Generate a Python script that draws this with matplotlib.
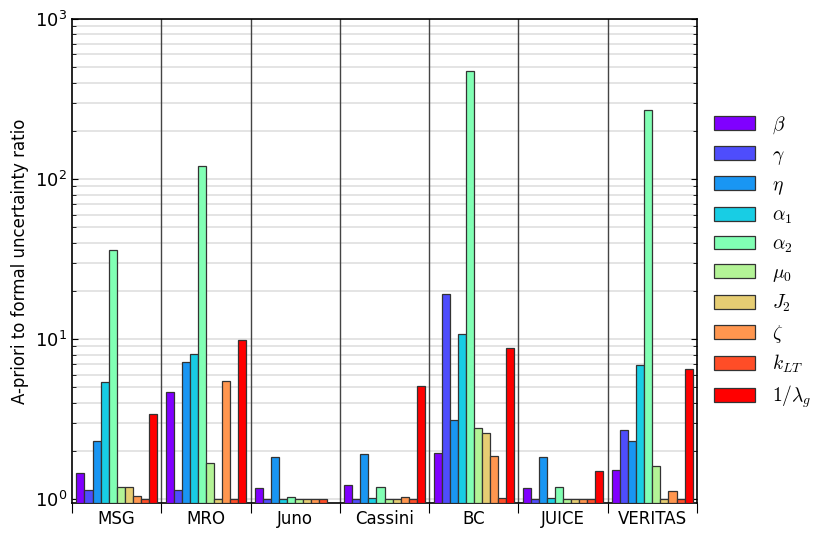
import numpy as np
import matplotlib.pyplot as plt
from matplotlib import cm
from matplotlib.font_manager import FontProperties
from matplotlib.ticker import LogLocator, NullFormatter, FixedLocator

missions = ["MSG", "MRO", "Juno", "Cassini", "BC", "JUICE", "VERITAS"]
params = [r"$\beta$", r"$\gamma$", r"$\eta$", r"$\alpha_1$", r"$\alpha_2$",
          r"$\mu_0$", r"$J_2$", r"$\zeta$", r"$k_{LT}$", r"$1/\lambda_g$"]

# rows = missions, columns = parameters
msg = [1.45, 1.14, 2.30, 5.41, 36.0, 1.19, 1.19, 1.04, 1.0, 3.38]
mro = [4.64, 1.14, 7.21, 8.06, 120.0, 1.67, 1.0, 5.49, 1.0, 9.9]
juno = [1.18, 1.0, 1.82, 1.0, 1.03, 1.0, 1.0, 1.0, 1.0, np.nan]
cassini = [1.22, 1.0, 1.90, 1.01, 1.19, 1.0, 1.0, 1.025, 1.0, 5.06]
bc = [1.94, 19.0, 3.10, 10.7, 473.0, 2.78, 2.59, 1.85, 1.01, 8.75]
juice = [1.18, 1.0, 1.82, 1.01, 1.19, 1.0, 1.0, 1.0, 1.0, 1.49]
veritas = [1.51, 2.69, 2.29, 6.91, 270.0, 1.60, 1.0, 1.12, 1.0, 6.53]

ratios = np.array([msg, mro, juno, cassini, bc, juice, veritas])

fig = plt.figure(figsize=(8.31, 5.38), dpi=100)
ax = fig.add_axes([0.0866, 0.065, 0.7522, 0.8997])

ymin = 0.944
# rainbow at 0, .1, .2, .3, .5, ... 1 (0.4 is skipped in the original)
cpos = np.delete(np.linspace(0, 1, 11), 4)
colors = cm.rainbow(cpos)
width = 0.09
x = np.arange(len(missions))
for j, p in enumerate(params):
    h = ratios[:, j] - ymin
    ax.bar(x + 0.05 + j * width, h, width, bottom=ymin, align="edge",
           color=colors[j], edgecolor="#333333", linewidth=0.9,
           label=p, zorder=3)

ax.set_yscale("log")
ax.set_ylim(ymin, 1000)
ax.set_xlim(0, len(missions))

for b in range(1, len(missions)):
    ax.axvline(b, color="#444444", lw=1.0, zorder=2)

ax.yaxis.set_major_locator(LogLocator(base=10))
ax.yaxis.set_minor_locator(LogLocator(base=10, subs=np.arange(2, 10)))
ax.yaxis.set_minor_formatter(NullFormatter())
ax.grid(axis="y", which="both", color="#dcdcdc", lw=1.1, zorder=0)
ax.set_axisbelow(True)

ax.xaxis.set_major_locator(FixedLocator(np.arange(len(missions) + 1)))
ax.set_xticklabels([""] * (len(missions) + 1))
ax.set_xticks(x + 0.5, minor=True)
ax.set_xticklabels(missions, minor=True, fontsize=12)
ax.tick_params(axis="x", which="major", direction="out", length=7.5, width=0.8)
ax.tick_params(axis="x", which="minor", length=0, pad=5)
ax.tick_params(axis="y", which="both", direction="in", left=True, right=True,
               labelsize=13)
ax.tick_params(axis="y", which="major", length=4)
ax.tick_params(axis="y", which="minor", length=3)

for s in ax.spines.values():
    s.set_linewidth(1.2)

ax.set_ylabel("A-priori to formal uncertainty ratio", fontsize=12)

ax.legend(loc="center left", bbox_to_anchor=(0.999, 0.497), frameon=False,
          prop=FontProperties(size=14, math_fontfamily="cm"),
          handlelength=2.1, handleheight=0.72, labelspacing=0.44,
          handletextpad=0.9)

fig.savefig("out.png", dpi=100)
